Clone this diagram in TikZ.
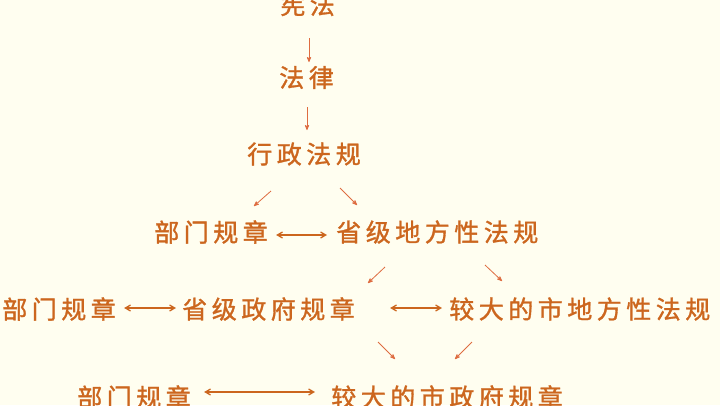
\documentclass[tikz,border=0pt]{standalone}
\usepackage{fontspec}
\newfontfamily\cjk[LetterSpace=18,FakeBold=1.2]{Noto Sans CJK SC}
\usetikzlibrary{arrows}
\definecolor{lawtext}{RGB}{204,102,30}
\definecolor{lawarrow}{RGB}{222,108,64}
\definecolor{paper}{RGB}{255,254,240}

\begin{document}
\begin{tikzpicture}[x=1pt,y=-1pt,->,>=stealth',semithick]
  \tikzstyle{every node}=[font=\cjk\fontsize{25}{25}\selectfont,text=lawtext,
    inner sep=0pt,anchor=west]
  \tikzstyle{down}=[lawarrow,line width=0.8pt]
  \tikzstyle{both}=[<->,>=angle 60,lawtext,line width=1.3pt]

  \useasboundingbox (0,0) rectangle (720,405);
  \fill[paper,-] (0,0) rectangle (720,405);
  \clip (0,0) rectangle (720,405);

  \node (xf)  at (280,4.5) {宪法};
  \node (fl)  at (279,77.5) {法律};
  \node (xz)  at (247,154) {行政法规};
  \node (bm1) at (154,232) {部门规章};
  \node (sd)  at (336,232) {省级地方性法规};
  \node (bm2) at (2,309)   {部门规章};
  \node (sz)  at (182,309) {省级政府规章};
  \node (jd)  at (449,309) {较大的市地方性法规};
  \node (bm3) at (77,397)  {部门规章};
  \node (jz)  at (331,397) {较大的市政府规章};

  % short arrows between the rows
  \coordinate (a1) at (309,38);  \coordinate (b1) at (309,62);
  \coordinate (a2) at (307,107); \coordinate (b2) at (307,130);
  \coordinate (a3) at (271,191); \coordinate (b3) at (254,206);
  \coordinate (a4) at (340,188); \coordinate (b4) at (357,205);
  \coordinate (a5) at (385,267); \coordinate (b5) at (368,283);
  \coordinate (a6) at (485,265); \coordinate (b6) at (502,281);
  \coordinate (a7) at (378,342); \coordinate (b7) at (395,359);
  \coordinate (a8) at (472,342); \coordinate (b8) at (455,359);

  \foreach \i in {1,...,8}
    \draw[down] (a\i) -- (b\i);

  \draw[both,shorten <=8pt,shorten >=9pt]
    ([yshift=-3pt]bm1.east) -- ([yshift=-3pt]sd.west);
  \draw[both,shorten <=8pt,shorten >=6pt]
    ([yshift=1pt]bm2.east) -- ([yshift=1pt]sz.west);
  \draw[both,shorten <=35pt,shorten >=7pt]
    ([yshift=1pt]sz.east) -- ([yshift=1pt]jd.west);
  \draw[both,shorten <=13pt,shorten >=16pt]
    ([yshift=5pt]bm3.east) -- ([yshift=5pt]jz.west);
\end{tikzpicture}
\end{document}
